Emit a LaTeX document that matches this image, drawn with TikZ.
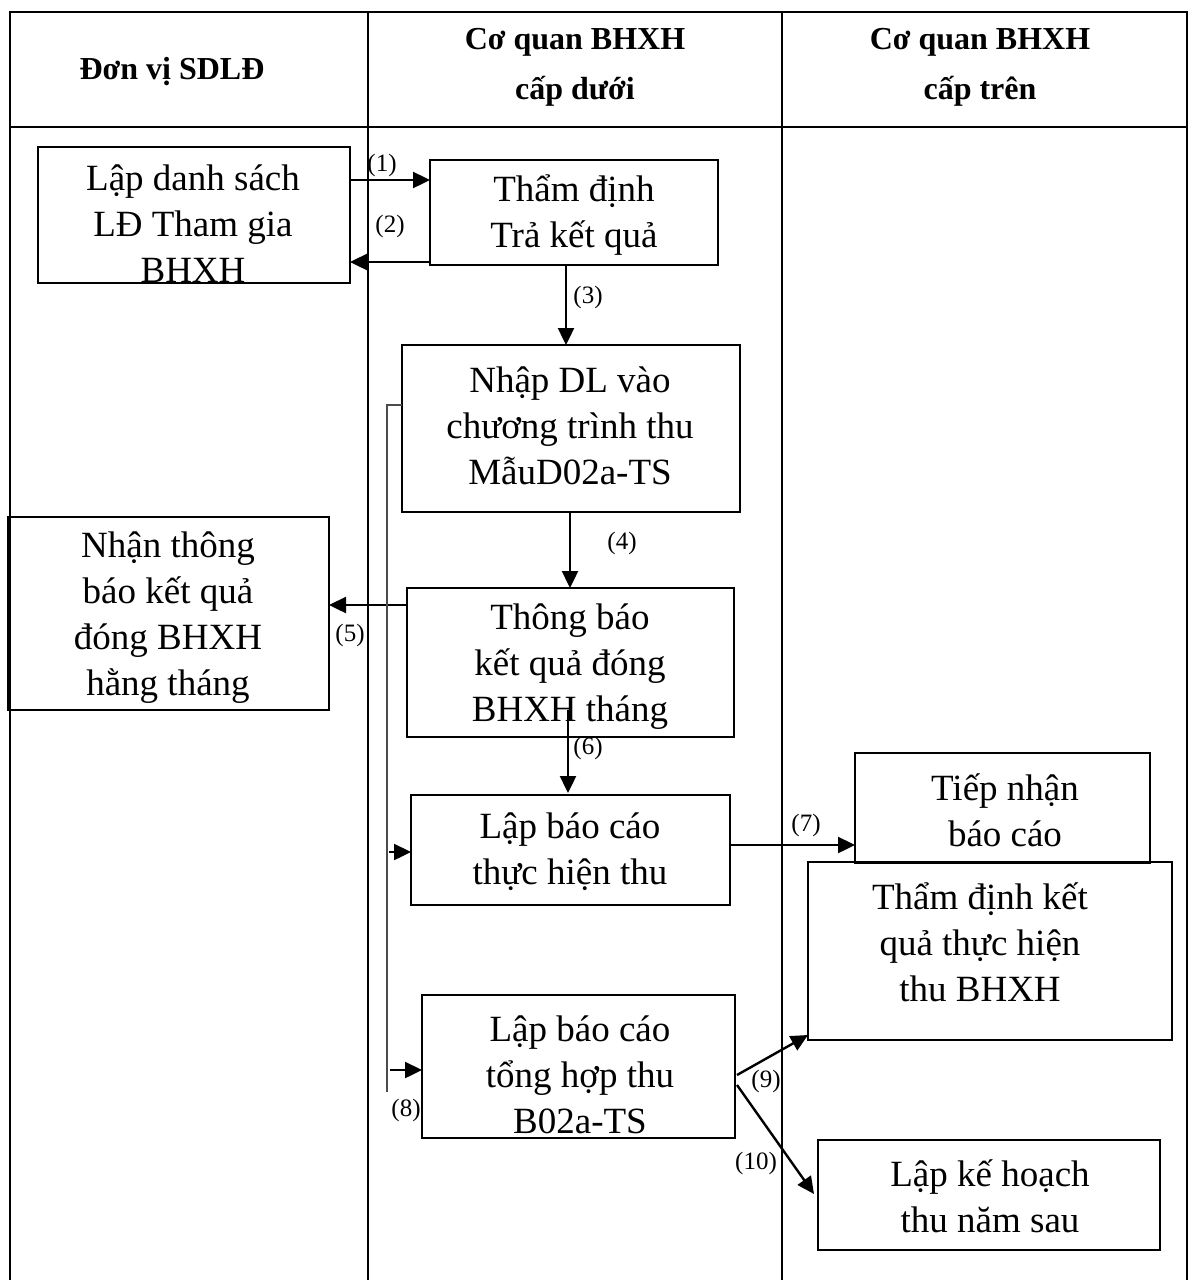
\documentclass[tikz,border=0pt]{standalone}
\usepackage{fontspec}
\setmainfont{Liberation Serif}
\usetikzlibrary{arrows.meta}
\begin{document}
\begin{tikzpicture}[x=1pt,y=-1pt,
  box/.style={draw,line width=2pt},
  txt/.style={align=center,font=\fontsize{37}{46}\selectfont,inner sep=0pt},
  hdr/.style={align=center,font=\bfseries\fontsize{32}{50}\selectfont,inner sep=0pt},
  lab/.style={font=\fontsize{25}{26}\selectfont,inner sep=0pt},
  arr/.style={line width=2.4pt,-{Triangle[length=17pt,width=16pt]}},
  thin/.style={line width=1.4pt,draw=black!70}]
\useasboundingbox (0,0) rectangle (1189,1280);
% frame
\draw[line width=2.8pt] (10,12) rectangle (1187,1282);
\draw[line width=2.8pt] (10,127) -- (1187,127);
\draw[line width=2.2pt] (368,12) -- (368,1282);
\draw[line width=2.2pt] (782,12) -- (782,1282);
% headers
\node[hdr] (h1) at (172,72) {Đơn vị SDLĐ};
\node[hdr] (h2) at (575,67) {Cơ quan BHXH\\cấp dưới};
\node[hdr] (h3) at (980,67) {Cơ quan BHXH\\cấp trên};
% boxes
\draw[box] (38,147) rectangle (350,283);
\node[txt] (b1) at (193,224) {Lập danh sách\\LĐ Tham gia\\BHXH};
\coordinate (b1e) at (350,180); \coordinate (b1w) at (350,262);
\draw[box] (430,160) rectangle (718,265);
\node[txt] (b2) at (574,215) {Thẩm định\\Trả kết quả};
\coordinate (b2a) at (430,180); \coordinate (b2b) at (430,262);
\coordinate (b2s) at (566,265);
\draw[box] (402,345) rectangle (740,512);
\node[txt] (b3) at (570,426) {Nhập DL vào\\chương trình thu\\MẫuD02a-TS};
\coordinate (b3n) at (566,345); \coordinate (b3s) at (570,512);
\coordinate (b3w) at (402,405);
\draw[box] (8,517) rectangle (329,710);
\node[txt] (b4) at (168,618) {Nhận thông\\báo kết quả\\đóng BHXH\\hằng tháng};
\coordinate (b4e) at (329,605);
\draw[box] (407,588) rectangle (734,737);
\node[txt] (b5) at (570,667) {Thông báo\\kết quả đóng\\BHXH tháng};
\coordinate (b5n) at (570,588); \coordinate (b5w) at (407,605);
\coordinate (b5i) at (568,710);
\draw[box] (411,795) rectangle (730,905);
\node[txt] (b6) at (570,852) {Lập báo cáo\\thực hiện thu};
\coordinate (b6n) at (568,793); \coordinate (b6e) at (730,845);
\coordinate (b6w) at (411,852);
\draw[box] (855,753) rectangle (1150,863);
\node[txt] (b7) at (1005,810) {Tiếp nhận\\báo cáo};
\coordinate (b7w) at (855,845);
\draw[box] (808,862) rectangle (1172,1040);
\node[txt] (b8) at (980,942) {Thẩm định kết\\quả thực hiện\\thu BHXH};
\coordinate (b8w) at (808,1035);
\draw[box] (422,995) rectangle (735,1138);
\node[txt] (b9) at (580,1075) {Lập báo cáo\\tổng hợp thu\\B02a-TS};
\coordinate (b9w) at (422,1070);
\coordinate (b9a) at (737,1075); \coordinate (b9b) at (737,1085);
\draw[box] (818,1140) rectangle (1160,1250);
\node[txt] (b10) at (990,1196) {Lập kế hoạch\\thu năm sau};
\coordinate (b10w) at (814,1194);
% arrows
\draw[arr] (b1e) -- (b2a) node[lab,pos=0.4,above=2pt] (l1) {(1)};
\draw[arr] (b2b) -- (b1w);
\node[lab] (l2) at (390,226) {(2)};
\draw[arr] (b2s) -- (b3n);
\node[lab] (l3) at (588,297) {(3)};
\draw[arr] (b3s) -- (b5n);
\node[lab] (l4) at (622,543) {(4)};
\draw[arr] (b5w) -- (b4e);
\node[lab] (l5) at (350,635) {(5)};
\draw[arr] (b5i) -- (b6n);
\node[lab] (l6) at (588,748) {(6)};
\draw[arr] (b6e) -- (b7w);
\node[lab] (l7) at (806,825) {(7)};
\coordinate (t1) at (387,405);
\coordinate (t2) at (387,1092);
\draw[thin] (b3w) -- (t1) -- (t2);
\draw[arr] (389,852) -- (b6w);
\draw[arr] (390,1070) -- (b9w);
\node[lab] (l8) at (406,1110) {(8)};
\draw[arr] (b9a) -- (b8w);
\node[lab] (l9) at (766,1081) {(9)};
\draw[arr] (b9b) -- (b10w);
\node[lab] (l10) at (756,1163) {(10)};
\end{tikzpicture}
\end{document}
